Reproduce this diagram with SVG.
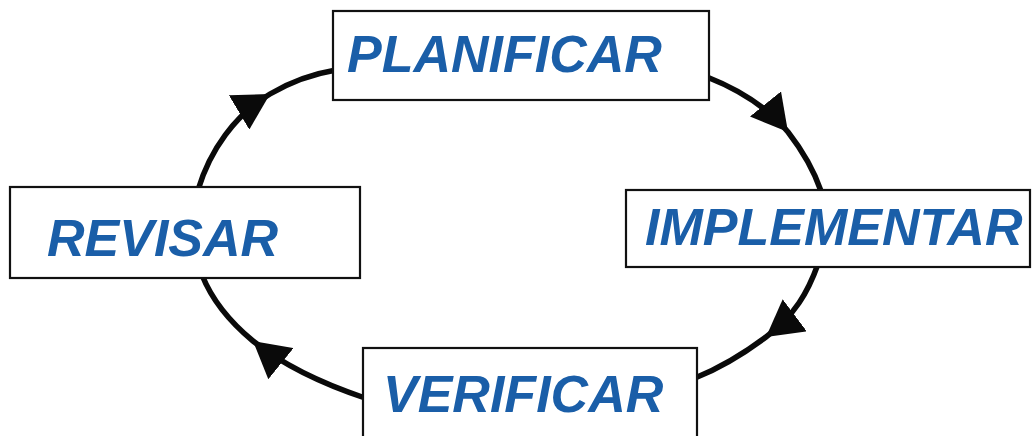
<svg xmlns="http://www.w3.org/2000/svg" width="1033" height="436" viewBox="0 0 1033 436">
<style>
.box{fill:#fff;stroke:#111;stroke-width:2.2}
.lbl{font-family:"Liberation Sans",Arial,sans-serif;font-weight:bold;font-style:italic;font-size:52px;fill:#1a5ea8}
.con{fill:none;stroke:#0a0a0a;stroke-width:5.5;marker-mid:url(#ah)}
</style>
<defs>
<marker id="ah" markerUnits="userSpaceOnUse" viewBox="0 0 36 40" markerWidth="36" markerHeight="40" refX="36" refY="20" orient="auto">
<path d="M0,0 L36,20 L0,40 z" fill="#0a0a0a"/>
</marker>
</defs>
<rect width="1033" height="436" fill="#fff"/>
<g id="connectors">
<path class="con" d="M198,190 C210,150 235,115 270,94 C292,81 312,74 336,70"/>
<path class="con" d="M707,77 C740,90 768,108 788,132 C802,150 813,168 821,191"/>
<path class="con" d="M818,264 C808,292 795,315 766,337 C746,352 725,366 695,378"/>
<path class="con" d="M365,398 C320,383 283,365 253,341 C230,322 212,300 202,275"/>
</g>
<g id="planificar">
<rect class="box" x="333" y="11" width="376" height="89"/>
<text class="lbl" x="347" y="72">PLANIFICAR</text>
</g>
<g id="implementar">
<rect class="box" x="626" y="190" width="404" height="77"/>
<text class="lbl" x="645" y="245">IMPLEMENTAR</text>
</g>
<g id="revisar">
<rect class="box" x="10" y="187" width="350" height="91"/>
<text class="lbl" x="47" y="256">REVISAR</text>
</g>
<g id="verificar">
<rect class="box" x="363" y="348" width="334" height="100"/>
<text class="lbl" x="383" y="412">VERIFICAR</text>
</g>
</svg>
